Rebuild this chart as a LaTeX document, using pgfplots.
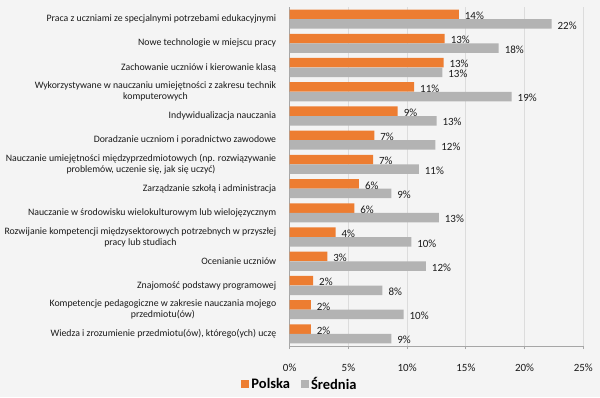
\documentclass[border=0pt]{standalone}
\usepackage{pgfplots}
\pgfplotsset{compat=1.18}
\usepackage{pgfplotstable}
\usepackage{fontspec}
\setmainfont{Carlito}
\definecolor{bgc}{HTML}{F4F4F4}
\definecolor{orng}{HTML}{ED7D31}
\definecolor{grb}{HTML}{B3B3B3}
\definecolor{gridc}{HTML}{DCDCDC}
\definecolor{axc}{HTML}{A6A6A6}
\definecolor{txt}{HTML}{1A1A1A}

\pgfplotstableread{
y P S PL SL
13 14.4 22.3 14 22
12 13.2 17.8 13 18
11 13.1 13.0 13 13
10 10.6 18.9 11 19
9 9.2 12.5 9 13
8 7.2 12.4 7 12
7 7.1 11.0 7 11
6 5.9 8.65 6 9
5 5.5 12.7 6 13
4 3.9 10.35 4 10
3 3.2 11.6 3 12
2 2.0 7.9 2 8
1 1.8 9.7 2 10
0 1.8 8.65 2 9
}\data

\begin{document}
\begin{tikzpicture}
\fill[bgc] (0,0) rectangle (600pt,397pt);
\useasboundingbox (0,0) rectangle (600pt,397pt);
\begin{axis}[
  at={(289.7pt,51pt)}, anchor=south west,
  scale only axis, width=293.6pt, height=339pt,
  xmin=0, xmax=25, ymin=-0.5, ymax=13.5,
  xbar, bar width=9.5pt,
  xtick={0,5,...,25},
  xticklabel={\pgfmathprintnumber{\tick}\%},
  /pgf/number format/assume math mode=true,
  xmajorgrids, grid style={gridc, line width=1pt},
  axis x line*=bottom, axis y line*=left,
  axis line style={axc, line width=0.8pt},
  x axis line style={-}, y axis line style={-},
  tick align=outside,
  xtick style={axc, line width=0.8pt},
  major tick length=3pt,
  ytick={0,...,13},
  y tick style={draw=none},
  minor ytick={-0.5,0.5,...,13.5},
  minor tick length=3pt,
  minor y tick style={axc, line width=0.8pt},
  yticklabels={
    {Wiedza i zrozumienie przedmiotu(ów), którego(ych) uczę},
    {Kompetencje pedagogiczne w zakresie nauczania mojego\\przedmiotu(ów)},
    {Znajomość podstawy programowej},
    {Ocenianie uczniów},
    {Rozwijanie kompetencji międzysektorowych potrzebnych w przyszłej\\pracy lub studiach},
    {Nauczanie w środowisku wielokulturowym lub wielojęzycznym},
    {Zarządzanie szkołą i administracja},
    {Nauczanie umiejętności międzyprzedmiotowych (np. rozwiązywanie\\problemów, uczenie się, jak się uczyć)},
    {Doradzanie uczniom i poradnictwo zawodowe},
    {Indywidualizacja nauczania},
    {Wykorzystywane w nauczaniu umiejętności z zakresu technik\\komputerowych},
    {Zachowanie uczniów i kierowanie klasą},
    {Nowe technologie w miejscu pracy},
    {Praca z uczniami ze specjalnymi potrzebami edukacyjnymi}
  },
  yticklabel style={align=center, font=\fontsize{9.8}{10.8}\selectfont, text=txt, xshift=-7pt},
  xticklabel style={font=\fontsize{11}{12}\selectfont, text=txt, yshift=-11pt},
  point meta=explicit symbolic,
  nodes near coords={\pgfplotspointmeta\%},
  nodes near coords style={font=\fontsize{11}{12}\selectfont, text=txt, anchor=west, xshift=2.5pt, yshift=-1.5pt},
  legend style={at={(0.035,-0.112)}, anchor=center, draw=none, fill=none,
    legend columns=2, font=\bfseries\fontsize{14.5}{16}\selectfont,
    /tikz/every even column/.append style={column sep=9pt}},
  legend image code/.code={\fill[#1] (0pt,-4pt) rectangle (8pt,4pt);},
]
\addplot[fill=orng, draw=none, bar shift=4.8pt] table[x=P, y=y, meta=PL] {\data};
\addlegendentry{Polska}
\addplot[fill=grb, draw=none, bar shift=-4.8pt] table[x=S, y=y, meta=SL] {\data};
\addlegendentry{Średnia}
\end{axis}
\end{tikzpicture}
\end{document}
